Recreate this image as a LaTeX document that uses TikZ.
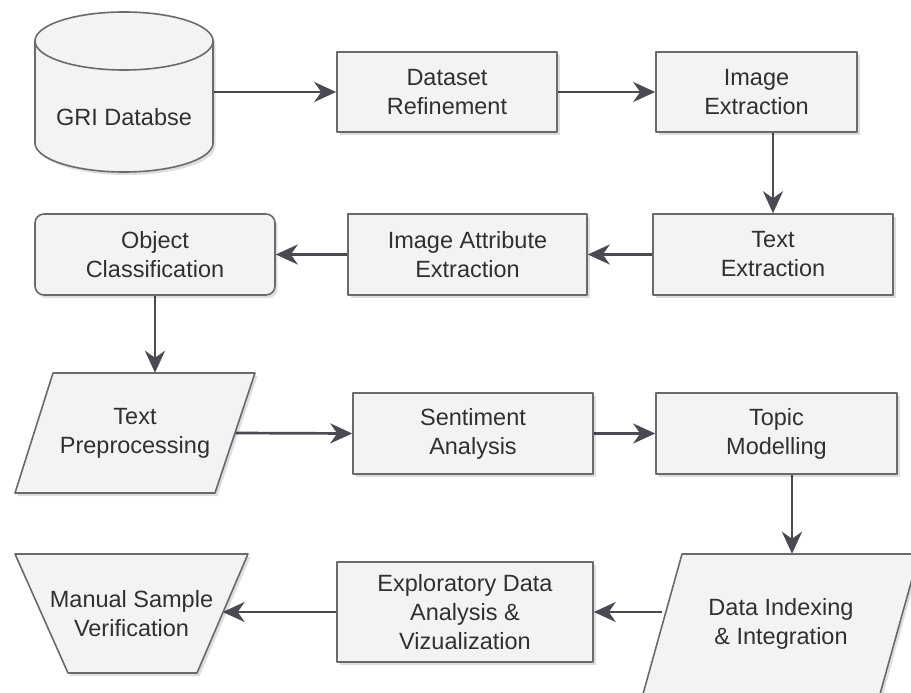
\documentclass[tikz,border=0pt]{standalone}
\usepackage{fontspec}
\setmainfont{Liberation Sans}
\usetikzlibrary{arrows.meta,shadows,calc}
\definecolor{boxfill}{HTML}{F3F3F4}
\definecolor{boxline}{HTML}{6A6A6E}
\definecolor{arrowc}{HTML}{4A4A52}
\definecolor{txtc}{HTML}{303030}
\pgfdeclarelayer{bg}
\pgfsetlayers{bg,main}
\begin{document}
\begin{tikzpicture}[x=1pt,y=-1pt,
  shp/.style={draw=boxline, fill=boxfill, line width=1.6pt, line join=round,
    drop shadow={shadow xshift=2.5pt, shadow yshift=-3pt, opacity=0.13, fill=black}},
  txt/.style={inner sep=0pt, align=center, text=txtc, font=\fontsize{23.5}{29}\selectfont},
  rbox/.style={shp, txt, rectangle},
  ghost/.style={txt, rectangle, draw=none, fill=none},
  arr/.style={draw=arrowc, line width=2.7pt, -{Stealth[length=22pt, width=20pt, inset=7pt]}}
]
\useasboundingbox (0,0) rectangle (911,693);
\clip (0,0) rectangle (911,693);

% ---- cylinder (GRI Databse)
\draw[shp] (35,41) -- (35,143) arc[start angle=180, end angle=0, x radius=89, y radius=29]
  -- (213,41) arc[start angle=0, end angle=-180, x radius=89, y radius=29] -- cycle;
\draw[draw=boxline, line width=1.6pt] (35,41) arc[start angle=180, end angle=0, x radius=89, y radius=29];
\node[ghost, minimum width=178, minimum height=160] (db) at (124,92) {};
\node[txt] (dblabel) at (124,117) {GRI Databse};

% ---- row 1
\node[rbox, minimum width=220, minimum height=80] (dr) at (447,92) {Dataset\\Refinement};
\node[rbox, minimum width=201, minimum height=80] (ie) at (756.5,92) {Image\\Extraction};

% ---- row 2
\node[rbox, minimum width=240, minimum height=81] (te) at (773,254.5) {Text\\Extraction};
\node[rbox, minimum width=239, minimum height=81] (ia) at (467.5,254.5) {Image Attribute\\Extraction};
\node[rbox, rounded corners=9pt, minimum width=240, minimum height=81] (oc) at (155,254.5) {Object\\Classification};

% ---- row 3
\draw[shp] (53,373) -- (255,373) -- (215,493) -- (15,493) -- cycle;
\node[ghost, minimum width=200, minimum height=120] (tp) at (135,433) {Text\\Preprocessing};
\node[rbox, minimum width=240, minimum height=81] (sa) at (473,433.5) {Sentiment\\Analysis};
\node[rbox, minimum width=241, minimum height=81] (tm) at (776.5,433.5) {Topic\\Modelling};

% ---- row 4
\draw[shp] (682,554) -- (919,554) -- (880,694) -- (643,694) -- cycle;
\node[ghost, minimum width=237, minimum height=140] (di) at (781,624) {Data Indexing\\\& Integration};
\node[rbox, minimum width=256, minimum height=100] (ex) at (465,612) {Exploratory Data\\Analysis \&\\Vizualization};
\draw[shp] (15,554) -- (248,554) -- (197,673) -- (68,673) -- cycle;
\node[ghost, minimum width=182, minimum height=119] (ms) at (131.5,613.5) {Manual Sample\\Verification};

\coordinate (tmx) at (792,0);

% ---- connectors
\begin{pgfonlayer}{bg}
\draw[arr] (db.east) -- (dr.west);
\draw[arr] (dr.east) -- (ie.west);
\draw[arr] (te.north |- ie.south) -- (te.north);
\draw[arr] (te.west) -- (ia.east);
\draw[arr] (ia.west) -- (oc.east);
\draw[arr] (oc.south) -- (oc.south |- tp.north);
\draw[arr] (tp.east) -- (sa.west);
\draw[arr] (sa.east) -- (tm.west);
\draw[arr] (tmx |- tm.south) -- (tmx |- di.north);
\draw[arr] (di.west |- ex.east) -- (ex.east);
\draw[arr] (ex.west) -- (ms.east |- ex.west);
\end{pgfonlayer}
\end{tikzpicture}
\end{document}
